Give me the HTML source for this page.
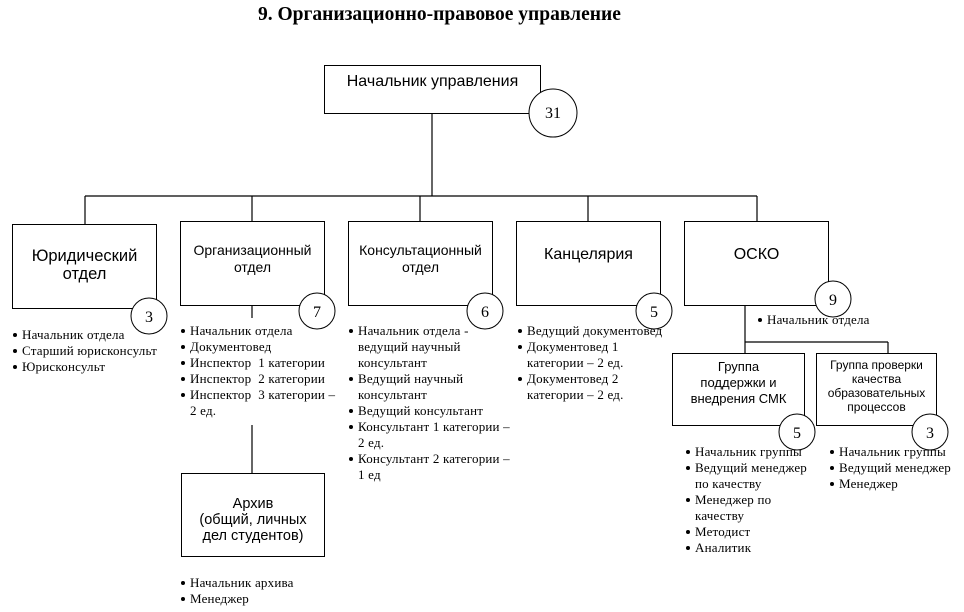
<!DOCTYPE html>
<html><head><meta charset="utf-8"><style>
body{margin:0;width:964px;height:612px;background:#fff;position:relative;overflow:hidden;font-family:"Liberation Sans","DejaVu Sans",sans-serif;color:#000}
.t{position:absolute;font-family:"Liberation Serif",serif;font-weight:bold;font-size:19.5px;left:258px;top:4px;white-space:nowrap}
.box{position:absolute;border:1px solid #000;background:#fff;box-sizing:border-box;text-align:center}
.l{position:absolute;font-family:"Liberation Serif","DejaVu Serif",serif;font-size:13px;line-height:16px;white-space:nowrap;letter-spacing:0.2px}
.l div{position:relative}
.l div::before{content:"";position:absolute;left:-9px;top:6px;width:4px;height:4px;border-radius:50%;background:#000}
.l div.c::before{display:none}
svg{position:absolute;left:0;top:0}
</style></head><body>
<div class="t">9. Организационно-правовое управление</div>
<svg width="964" height="612">
<g stroke="#000" stroke-width="1.2" fill="none">
<line x1="432" y1="113" x2="432" y2="196"/>
<line x1="85" y1="196" x2="757" y2="196"/>
<line x1="85" y1="196" x2="85" y2="224"/>
<line x1="252" y1="196" x2="252" y2="221"/>
<line x1="420" y1="196" x2="420" y2="221"/>
<line x1="588" y1="196" x2="588" y2="221"/>
<line x1="757" y1="196" x2="757" y2="221"/>
<line x1="252" y1="305" x2="252" y2="318"/>
<line x1="252" y1="425" x2="252" y2="473"/>
<line x1="745" y1="305" x2="745" y2="342"/>
<line x1="745" y1="342" x2="888" y2="342"/>
<line x1="745" y1="342" x2="745" y2="353"/>
<line x1="888" y1="342" x2="888" y2="353"/>
</g>
</svg>
<div class="box" style="left:324px;top:65px;width:217px;height:49px;font-size:16px;padding-top:7px">Начальник управления</div>
<div class="box" style="left:12px;top:224px;width:145px;height:85px;font-size:16.5px;padding-top:22px;line-height:18px">Юридический<br>отдел</div>
<div class="box" style="left:180px;top:221px;width:145px;height:85px;font-size:14px;padding-top:20px;line-height:17px">Организационный<br>отдел</div>
<div class="box" style="left:348px;top:221px;width:145px;height:85px;font-size:14px;padding-top:20px;line-height:17px">Консультационный<br>отдел</div>
<div class="box" style="left:516px;top:221px;width:145px;height:85px;font-size:16px;padding-top:24px">Канцелярия</div>
<div class="box" style="left:684px;top:221px;width:145px;height:85px;font-size:16px;padding-top:24px">ОСКО</div>
<div class="box" style="left:672px;top:353px;width:133px;height:73px;font-size:13px;padding-top:5px;line-height:16px">Группа<br>поддержки и<br>внедрения СМК</div>
<div class="box" style="left:816px;top:353px;width:121px;height:73px;font-size:12px;padding-top:4px;line-height:14px">Группа проверки<br>качества<br>образовательных<br>процессов</div>
<div class="box" style="left:181px;top:473px;width:144px;height:84px;font-size:14.5px;padding-top:22px;line-height:16px">Архив<br>(общий, личных<br>дел студентов)</div>
<svg width="964" height="612">
<g stroke="#000" stroke-width="1" fill="#fff">
<circle cx="553" cy="113" r="24"/>
<circle cx="149" cy="316" r="18"/>
<circle cx="317" cy="311" r="18"/>
<circle cx="485" cy="311" r="18"/>
<circle cx="654" cy="311" r="18"/>
<circle cx="833" cy="299" r="18"/>
<circle cx="797" cy="432" r="18"/>
<circle cx="930" cy="432" r="18"/>
</g>
<g font-family="Liberation Serif, serif" font-size="16" text-anchor="middle">
<text x="553" y="118">31</text>
<text x="149" y="322">3</text>
<text x="317" y="317">7</text>
<text x="485" y="317">6</text>
<text x="654" y="317">5</text>
<text x="833" y="305">9</text>
<text x="797" y="438">5</text>
<text x="930" y="438">3</text>
</g>
</svg>
<div class="l" style="left:22px;top:327px"><div>Начальник отдела</div><div>Старший юрисконсульт</div><div>Юрисконсульт</div></div>
<div class="l" style="left:190px;top:323px"><div>Начальник отдела</div><div>Документовед</div><div>Инспектор&nbsp; 1 категории</div><div>Инспектор&nbsp; 2 категории</div><div>Инспектор&nbsp; 3 категории –</div><div class="c">2 ед.</div></div>
<div class="l" style="left:358px;top:323px"><div>Начальник отдела -</div><div class="c">ведущий научный</div><div class="c">консультант</div><div>Ведущий научный</div><div class="c">консультант</div><div>Ведущий консультант</div><div>Консультант 1 категории –</div><div class="c">2 ед.</div><div>Консультант 2 категории –</div><div class="c">1 ед</div></div>
<div class="l" style="left:527px;top:323px"><div>Ведущий документовед</div><div>Документовед 1</div><div class="c">категории – 2 ед.</div><div>Документовед 2</div><div class="c">категории – 2 ед.</div></div>
<div class="l" style="left:767px;top:312px"><div>Начальник отдела</div></div>
<div class="l" style="left:695px;top:444px"><div>Начальник группы</div><div>Ведущий менеджер</div><div class="c">по качеству</div><div>Менеджер по</div><div class="c">качеству</div><div>Методист</div><div>Аналитик</div></div>
<div class="l" style="left:839px;top:444px"><div>Начальник группы</div><div>Ведущий менеджер</div><div>Менеджер</div></div>
<div class="l" style="left:190px;top:575px"><div>Начальник архива</div><div>Менеджер</div></div>
</body></html>
